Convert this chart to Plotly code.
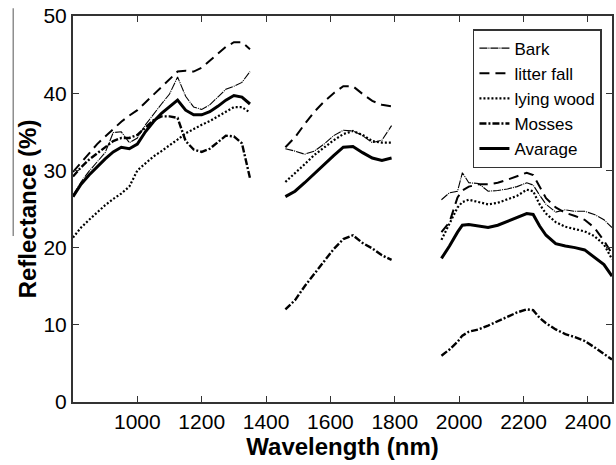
import plotly.graph_objects as go

# Wavelength grids (nm) for the three spectral segments
wl_seg1 = [800, 825, 850, 875, 900, 925, 950, 975, 1000, 1025, 1050, 1075, 1100, 1125,
           1150, 1175, 1200, 1225, 1250, 1275, 1300, 1325, 1350]
wl_seg2 = [1460, 1490, 1520, 1550, 1580, 1610, 1640, 1670, 1700, 1730, 1760, 1790]
wl_seg3 = [1945, 1970, 1995, 2010, 2030, 2060, 2090, 2120, 2150, 2180, 2210, 2230, 2250,
           2270, 2300, 2330, 2360, 2390, 2420, 2450, 2475]

# Reflectance (%) per class and segment
bark_1 = [26.8, 28.5, 29.9, 31.1, 32.3, 34.9, 35.0, 33.6, 34.2, 35.9, 37.3, 38.6, 39.9, 42.1,
          39.6, 38.2, 37.9, 38.5, 39.5, 40.5, 40.9, 41.4, 42.8]
bark_2 = [32.8, 32.5, 32.1, 32.5, 33.4, 34.5, 35.2, 35.1, 34.5, 33.6, 33.9, 35.8]
bark_3 = [26.2, 27.1, 27.3, 29.7, 28.4, 28.3, 27.3, 27.4, 27.6, 27.9, 28.4, 28.1, 26.8,
          25.6, 24.6, 24.9, 24.7, 24.7, 24.3, 23.6, 22.6]

litter_1 = [29.8, 31.0, 32.2, 33.4, 34.4, 35.4, 36.3, 37.1, 37.8, 38.8, 39.8, 40.8, 41.8, 42.8,
            42.9, 42.8, 43.3, 44.2, 45.1, 46.0, 46.6, 46.6, 45.7]
litter_2 = [33.0, 34.3, 36.0, 37.6, 38.9, 40.0, 40.9, 40.9, 39.9, 39.0, 38.5, 38.3]
litter_3 = [22.0, 23.3, 26.5, 27.4, 27.9, 28.2, 28.2, 28.4, 28.8, 29.2, 29.7, 29.4, 27.8,
            26.4, 25.2, 24.5, 24.1, 23.6, 22.6, 20.9, 19.2]

lying_1 = [21.3, 22.6, 23.6, 24.6, 25.5, 26.3, 27.0, 27.9, 30.0, 30.9, 31.8, 32.5, 33.2, 34.0,
           34.8, 35.4, 35.9, 36.4, 37.0, 37.7, 38.2, 38.2, 37.5]
lying_2 = [28.5, 29.6, 30.8, 32.0, 33.0, 33.9, 34.7, 35.1, 34.6, 33.8, 33.6, 33.6]
lying_3 = [21.0, 23.0, 25.2, 25.9, 26.2, 25.9, 25.6, 25.8, 26.2, 26.7, 27.5, 27.3, 25.6,
           24.4, 23.3, 22.7, 22.4, 22.1, 21.5, 20.4, 18.5]

mosses_1 = [29.2, 30.4, 31.4, 32.2, 33.0, 33.8, 34.2, 34.2, 34.6, 35.6, 36.5, 37.0, 37.0, 36.8,
            33.8, 32.7, 32.4, 32.8, 33.7, 34.5, 34.4, 33.5, 29.0]
mosses_2 = [12.0, 13.2, 15.0, 16.6, 18.2, 19.8, 21.1, 21.6, 20.6, 19.9, 19.0, 18.4]
mosses_3 = [6.0, 6.8, 7.8, 8.6, 9.1, 9.4, 9.9, 10.5, 11.1, 11.6, 12.0, 11.9, 10.9,
            10.2, 9.4, 8.8, 8.4, 7.9, 7.1, 6.2, 5.5]

avg_1 = [26.6, 28.2, 29.4, 30.5, 31.5, 32.4, 33.0, 32.8, 33.4, 35.0, 36.3, 37.4, 38.3, 39.1,
         37.8, 37.2, 37.2, 37.6, 38.3, 39.1, 39.7, 39.5, 38.6]
avg_2 = [26.6, 27.3, 28.4, 29.6, 30.8, 31.9, 33.0, 33.1, 32.3, 31.6, 31.3, 31.6]
avg_3 = [18.6, 20.2, 22.0, 22.9, 23.0, 22.8, 22.6, 22.9, 23.4, 23.9, 24.4, 24.3, 22.8,
         21.6, 20.5, 20.2, 20.0, 19.7, 18.8, 17.8, 16.3]

x_ticks = [1000, 1200, 1400, 1600, 1800, 2000, 2200, 2400]
y_ticks = [0, 10, 20, 30, 40, 50]


def joined(a, b, c):
    return list(a) + [None] + list(b) + [None] + list(c)


wl_all = joined(wl_seg1, wl_seg2, wl_seg3)

series = [
    ("Bark", joined(bark_1, bark_2, bark_3), dict(width=1.1, dash="8px,1px,1px,1px")),
    ("litter fall", joined(litter_1, litter_2, litter_3), dict(width=2, dash="10px,6px")),
    ("lying wood", joined(lying_1, lying_2, lying_3), dict(width=2.2, dash="2px,2px")),
    ("Mosses", joined(mosses_1, mosses_2, mosses_3), dict(width=2.4, dash="7px,2px,2px,2px")),
    ("Avarage", joined(avg_1, avg_2, avg_3), dict(width=3, dash="solid")),
]

fig = go.Figure()
for name, vals, ln in series:
    fig.add_trace(go.Scatter(x=wl_all, y=vals, mode="lines", name=name,
                             connectgaps=False,
                             line=dict(color="black", **ln)))

font_family = "Liberation Sans, Arial, sans-serif"
fig.update_layout(
    width=616, height=465,
    margin=dict(l=73, r=2, t=16, b=63),
    paper_bgcolor="white", plot_bgcolor="white",
    font=dict(family=font_family, color="black", size=21),
    showlegend=True,
    legend=dict(x=0.742, y=0.966, xanchor="left", yanchor="top",
                bgcolor="white", bordercolor="#333333", borderwidth=1.5,
                font=dict(size=17, family=font_family), tracegroupgap=0,
                itemwidth=30),
)
fig.update_xaxes(range=[800, 2475], tickvals=x_ticks, ticks="inside", ticklen=6,
                 tickcolor="#333333", showline=True, linecolor="#333333", linewidth=2,
                 mirror="ticks", showgrid=False, zeroline=False,
                 title=dict(text="<b>Wavelength (nm)</b>", font=dict(size=24), standoff=0),
                 tickfont=dict(size=21))
fig.update_yaxes(range=[0, 50], tickvals=y_ticks, ticks="inside", ticklen=6,
                 tickcolor="#333333", showline=True, linecolor="#333333", linewidth=2,
                 mirror="ticks", showgrid=False, zeroline=False,
                 title=dict(text="<b>Reflectance (%)</b>", font=dict(size=24), standoff=0),
                 tickfont=dict(size=21))

# thin frame fragment visible at the left of the scanned figure
fig.add_shape(type="line", xref="paper", yref="paper", x0=-0.111, x1=-0.111,
              y0=1.02, y1=0.43, line=dict(color="#555555", width=1))

fig.write_html("out.html")
